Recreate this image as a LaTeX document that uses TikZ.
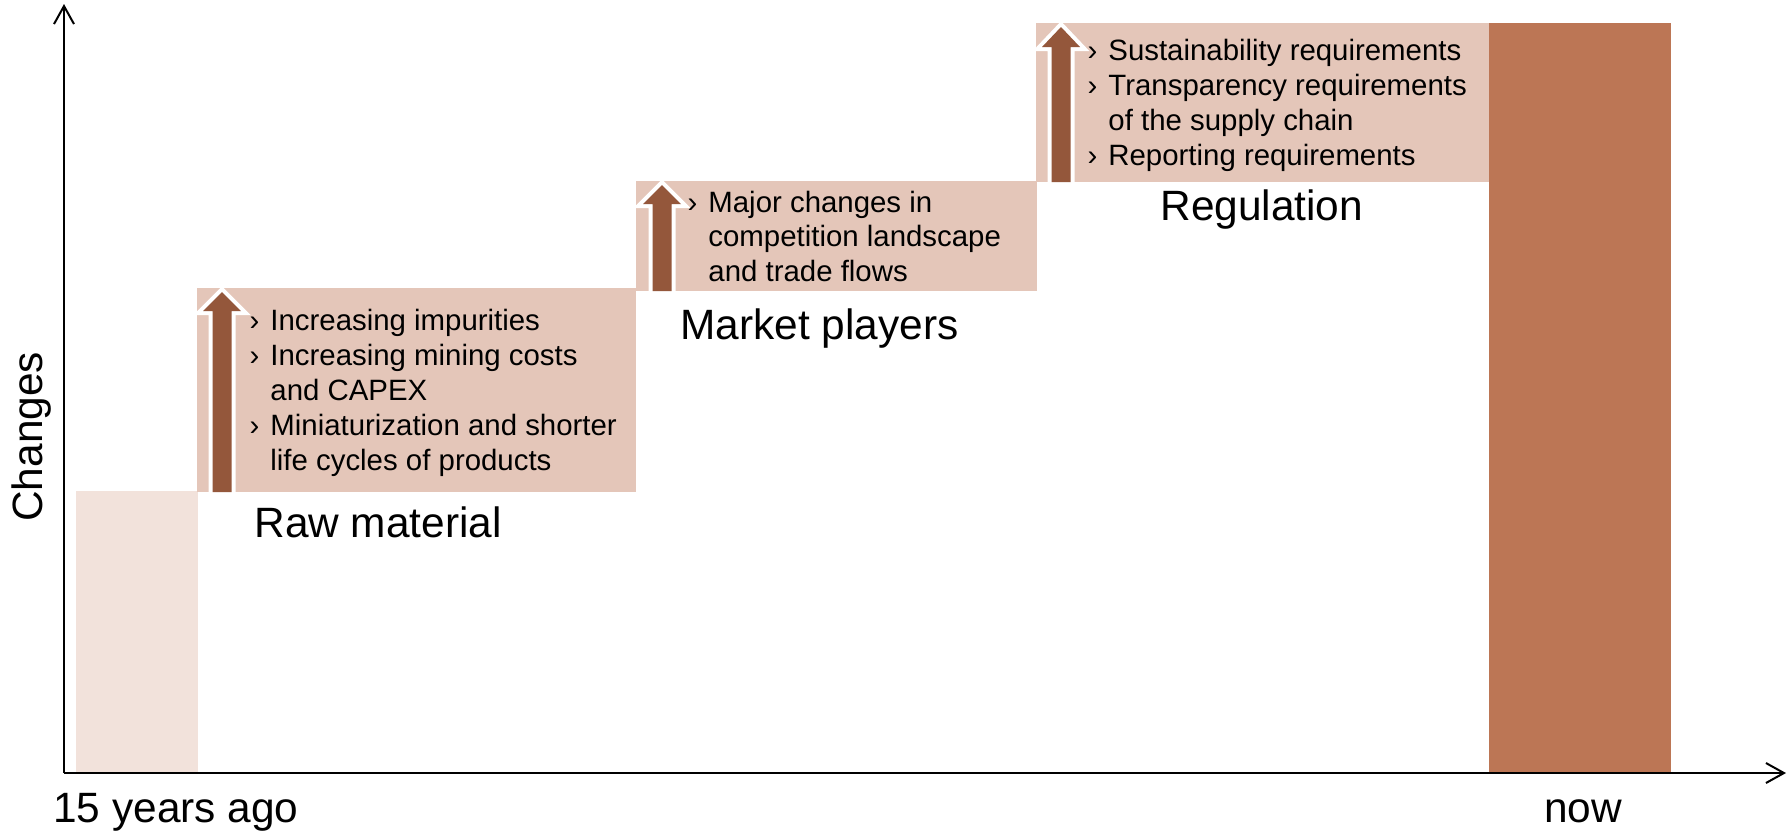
\documentclass[tikz,border=0pt]{standalone}
\usepackage{fontspec}
\setmainfont{Liberation Sans}
\usetikzlibrary{arrows.meta}
\definecolor{boxpink}{HTML}{E4C6B9}
\definecolor{lightbar}{HTML}{F2E2DB}
\definecolor{darkbar}{HTML}{BC7655}
\definecolor{arrbrown}{HTML}{94573B}
\newcommand\blt{\llap{›\hspace{5.5pt}}}
\newcommand\blockarrow[5]{% name, cx, tip, base, bottom
  \draw[white,line width=4pt,miter limit=20]
    (#2-9.5,#5) -- (#2-9.5,#4) -- (#2-19,#4) -- (#2,#3) -- (#2+19,#4) -- (#2+9.5,#4) -- (#2+9.5,#5) -- cycle;
  \fill[arrbrown]
    (#2-9.5,#5) -- (#2-9.5,#4) -- (#2-19,#4) -- (#2,#3) -- (#2+19,#4) -- (#2+9.5,#4) -- (#2+9.5,#5) -- cycle;
  \coordinate (#1) at (#2,#3);
}
\begin{document}
\begin{tikzpicture}[x=0.5pt,y=-0.5pt,
  bullettxt/.style={anchor=base west,inner sep=0pt,font=\fontsize{14.7}{17.5}\selectfont},
  biglbl/.style={anchor=base west,inner sep=0pt,font=\fontsize{21.2}{25}\selectfont},
  axisline/.style={line width=1pt,-{Straight Barb[length=9pt,width=10pt,line width=1pt]}},
]
\useasboundingbox (0,0) rectangle (1792,832);

% bars and boxes
\fill[lightbar] (76,491) rectangle (198,772);
\fill[boxpink] (197,288) rectangle (636,492);
\fill[boxpink] (636,181) rectangle (1037,291);
\fill[boxpink] (1036,23) rectangle (1492,182);
\fill[darkbar] (1489,23) rectangle (1671,772);

% block arrows
\blockarrow{a1}{222}{292}{311}{492}
\blockarrow{a2}{662}{185}{204}{291}
\blockarrow{a3}{1061}{27}{47}{182}

% axes
\coordinate (origin) at (64,773);
\coordinate (ytop) at (64,4);
\coordinate (xend) at (1786,773);
\draw[axisline] (origin) -- (ytop);
\draw[axisline] (origin) -- (xend);

% box 1 text
\node[bullettxt] (r1) at (270,330) {\blt Increasing impurities};
\node[bullettxt] (r2) at (270,365) {\blt Increasing mining costs};
\node[bullettxt] (r3) at (270,400) {and CAPEX};
\node[bullettxt] (r4) at (270,435) {\blt Miniaturization and shorter};
\node[bullettxt] (r5) at (270,470) {life cycles of products};

% box 2 text
\node[bullettxt] (m1) at (708,212) {\blt Major changes in};
\node[bullettxt] (m2) at (708,246.5) {competition landscape};
\node[bullettxt] (m3) at (708,281) {and trade flows};

% box 3 text
\node[bullettxt] (g1) at (1108,60) {\blt Sustainability requirements};
\node[bullettxt] (g2) at (1108,95) {\blt Transparency requirements};
\node[bullettxt] (g3) at (1108,130) {of the supply chain};
\node[bullettxt] (g4) at (1108,165) {\blt Reporting requirements};

% labels
\node[biglbl] (lraw) at (254,537) {Raw material};
\node[biglbl] (lmkt) at (680,339) {Market players};
\node[biglbl] (lreg) at (1160,220) {Regulation};
\node[biglbl,rotate=90] (lchg) at (42,522) {Changes};
\node[biglbl] (lago) at (53,822) {15 years ago};
\node[biglbl] (lnow) at (1544,822) {now};
\end{tikzpicture}
\end{document}
